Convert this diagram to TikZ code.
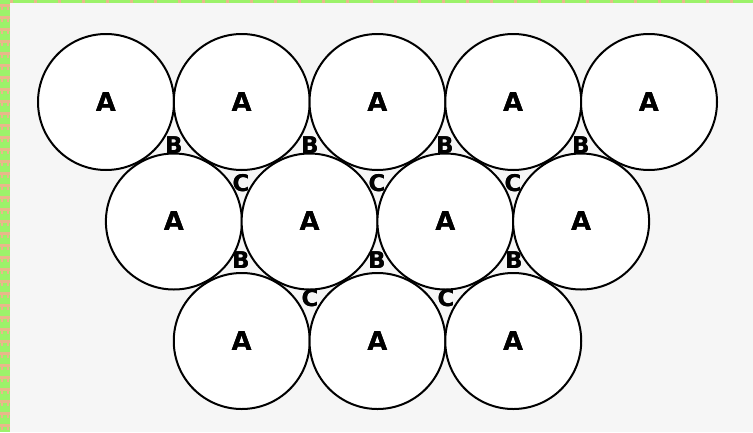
\documentclass[tikz,border=0pt]{standalone}
\usepackage{fontspec}
\setmainfont{DejaVu Sans}
\usepackage[outline]{contour}
\contourlength{0.35pt}
\definecolor{bggray}{HTML}{F6F6F6}
\definecolor{stripgreen}{HTML}{9CF26A}
\definecolor{striptan}{HTML}{E8B88A}
\newcommand{\heavy}[1]{\contour{black}{#1}}
\begin{document}
\begin{tikzpicture}[x=1pt,y=-1pt,
  ball/.style={circle, draw=black, line width=2pt, fill=white, minimum size=136pt, inner sep=0pt,
    font=\fontsize{26}{26}\selectfont\bfseries},
  gap/.style={inner sep=0pt, font=\fontsize{23}{23}\selectfont\bfseries}]
\useasboundingbox (0,0) rectangle (753,432);
\fill[bggray] (0,0) rectangle (753,432);
% green border strips
\fill[stripgreen] (0,0) rectangle (10,432);
\fill[stripgreen] (0,0) rectangle (753,2.5);
\foreach \yy in {0,12,...,432} {
  \fill[striptan] (0,\yy+4) rectangle (10,\yy+6.5);
  \fill[striptan] (1,\yy+6.5) rectangle (3,\yy+10);
  \fill[striptan] (7,\yy+6.5) rectangle (9,\yy+10);
}
\foreach \xx in {0,24,...,753} {
  \fill[striptan] (\xx+10,0) rectangle (\xx+13,2.5);
}
% row 1
\node[ball] (a1) at (106,102) {\heavy{A}};
\node[ball] (a2) at (241.75,102) {\heavy{A}};
\node[ball] (a3) at (377.5,102) {\heavy{A}};
\node[ball] (a4) at (513.25,102) {\heavy{A}};
\node[ball] (a5) at (649,102) {\heavy{A}};
% row 2
\node[ball] (b1) at (173.9,221.5) {\heavy{A}};
\node[ball] (b2) at (309.6,221.5) {\heavy{A}};
\node[ball] (b3) at (445.4,221.5) {\heavy{A}};
\node[ball] (b4) at (581.1,221.5) {\heavy{A}};
% row 3
\node[ball] (c1) at (241.75,341) {\heavy{A}};
\node[ball] (c2) at (377.5,341) {\heavy{A}};
\node[ball] (c3) at (513.25,341) {\heavy{A}};
% interstitial labels
\node[gap] (g1) at (174,145) {\heavy{B}};
\node[gap] (g2) at (310,145) {\heavy{B}};
\node[gap] (g3) at (445,145) {\heavy{B}};
\node[gap] (g4) at (581,145) {\heavy{B}};
\node[gap] (h1) at (241,183) {\heavy{C}};
\node[gap] (h2) at (377,183) {\heavy{C}};
\node[gap] (h3) at (513,183) {\heavy{C}};
\node[gap] (g5) at (241,260) {\heavy{B}};
\node[gap] (g6) at (377,260) {\heavy{B}};
\node[gap] (g7) at (514,260) {\heavy{B}};
\node[gap] (h4) at (310,298) {\heavy{C}};
\node[gap] (h5) at (446,298) {\heavy{C}};
\end{tikzpicture}
\end{document}
